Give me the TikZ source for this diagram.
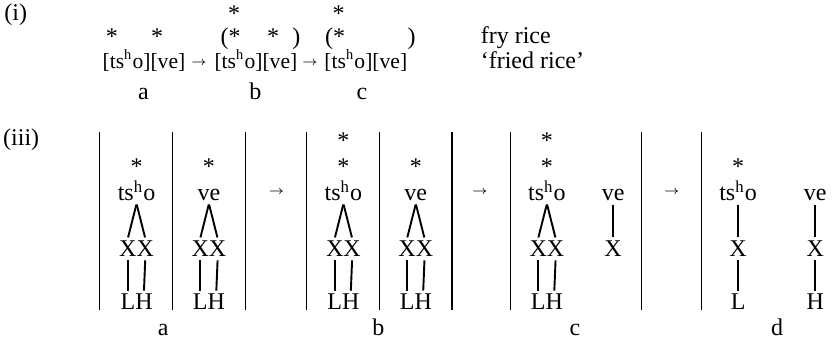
\documentclass[tikz,border=0pt]{standalone}
\usepackage{fontspec}
\setmainfont{Liberation Serif}
\usepackage{tikz}
\usetikzlibrary{positioning}
\newcommand{\tsho}{ts\textsuperscript{h}o}
\tikzset{
  seg/.style={inner sep=1pt, anchor=base},
  form/.style={inner sep=1pt, anchor=base west, font=\fontsize{9}{11}\selectfont},
  arr/.style={inner sep=0pt, font=\fontsize{5.5}{7}\selectfont},
  assoc/.style={line width=0.8pt, shorten >=0.3pt, shorten <=0.3pt},
  bar/.style={line width=0.45pt}
}

\begin{document}
\begin{tikzpicture}
\useasboundingbox (0,0) rectangle (12.2,5.02);

% (i) Metrical grid
\node[seg] (num-i) at (0.23,4.72) {(i)};
% Grid marks
\node[seg] (g-b-top) at (3.43,4.70) {*};
\node[seg] (g-c-top) at (4.96,4.70) {*};
\node[seg] (g-a-1) at (1.64,4.37) {*};
\node[seg] (g-a-2) at (2.30,4.37) {*};
\node[seg, anchor=base west] (g-b-1) at (3.19,4.37) {(*};
\node[seg] (g-b-2) at (4.00,4.37) {*};
\node[seg] (g-b-rp) at (4.34,4.37) {)};
\node[seg, anchor=base west] (g-c-1) at (4.72,4.37) {(*};
\node[seg] (g-c-rp) at (6.03,4.37) {)};
% Forms
\node[form] (f-a) at (1.46,4.01) {[\tsho][ve]};
\node[arr] (f-ab) at (2.915,4.09) {$\rightarrow$};
\node[form] (f-b) at (3.10,4.01) {[\tsho][ve]};
\node[arr] (f-bc) at (4.54,4.09) {$\rightarrow$};
\node[form] (f-c) at (4.71,4.01) {[\tsho][ve]};
% Labels
\node[seg] (l-a) at (2.10,3.56) {a};
\node[seg] (l-b) at (3.74,3.56) {b};
\node[seg] (l-c) at (5.30,3.56) {c};
% Gloss
\node[seg, anchor=base west] (gl-1) at (7.00,4.39) {fry rice};
\node[seg, anchor=base west] (gl-2) at (7.00,4.01) {`fried rice'};

% (iii) Tiers
\node[seg] (num-iii) at (0.31,2.89) {(iii)};

% Stage a
\begin{scope}[shift={(1.46,0)}]
\draw[bar] (0,0.48) -- (0,3.09);
\draw[bar] (1.07,0.48) -- (1.07,3.09);
\draw[bar] (2.13,0.48) -- (2.13,3.09);
% Values
\node[seg] (a-s1) at (0.54,2.46) {*};
\node[seg] (a-s2) at (1.60,2.46) {*};
\node[seg] (a-syl1) at (0.54,2.08) {\tsho};
\node[seg] (a-syl2) at (1.60,2.08) {ve};
\node[seg] (a-x1) at (0.413,1.26) {X};
\node[seg] (a-x2) at (0.667,1.26) {X};
\node[seg] (a-x3) at (1.473,1.26) {X};
\node[seg] (a-x4) at (1.727,1.26) {X};
\node[seg] (a-t1) at (0.413,0.48) {L};
\node[seg] (a-t2) at (0.648,0.48) {H};
\node[seg] (a-t3) at (1.473,0.48) {L};
\node[seg] (a-t4) at (1.708,0.48) {H};
\draw[assoc] (a-syl1.south) -- (a-x1.north);
\draw[assoc] (a-syl1.south) -- (a-x2.north);
\draw[assoc] (a-syl2.south) -- (a-x3.north);
\draw[assoc] (a-syl2.south) -- (a-x4.north);
\draw[assoc] (a-x1.south) -- (a-t1.north);
\draw[assoc] (a-x2.south) -- (a-t2.north);
\draw[assoc] (a-x3.south) -- (a-t3.north);
\draw[assoc] (a-x4.south) -- (a-t4.north);
% Labels
\node[seg] (a-lab) at (0.93,0.11) {a};
\end{scope}

\node[arr] (ab) at (4.05,2.20) {$\rightarrow$};

% Stage b
\begin{scope}[shift={(4.49,0)}]
\draw[bar] (0,0.48) -- (0,3.09);
\draw[bar] (1.07,0.48) -- (1.07,3.09);
\draw[bar] (2.13,0.48) -- (2.13,3.09);
% Values
\node[seg] (b-s0) at (0.54,2.85) {*};
\node[seg] (b-s1) at (0.54,2.46) {*};
\node[seg] (b-s2) at (1.60,2.46) {*};
\node[seg] (b-syl1) at (0.54,2.08) {\tsho};
\node[seg] (b-syl2) at (1.60,2.08) {ve};
\node[seg] (b-x1) at (0.413,1.26) {X};
\node[seg] (b-x2) at (0.667,1.26) {X};
\node[seg] (b-x3) at (1.473,1.26) {X};
\node[seg] (b-x4) at (1.727,1.26) {X};
\node[seg] (b-t1) at (0.413,0.48) {L};
\node[seg] (b-t2) at (0.648,0.48) {H};
\node[seg] (b-t3) at (1.473,0.48) {L};
\node[seg] (b-t4) at (1.708,0.48) {H};
\draw[assoc] (b-syl1.south) -- (b-x1.north);
\draw[assoc] (b-syl1.south) -- (b-x2.north);
\draw[assoc] (b-syl2.south) -- (b-x3.north);
\draw[assoc] (b-syl2.south) -- (b-x4.north);
\draw[assoc] (b-x1.south) -- (b-t1.north);
\draw[assoc] (b-x2.south) -- (b-t2.north);
\draw[assoc] (b-x3.south) -- (b-t3.north);
\draw[assoc] (b-x4.south) -- (b-t4.north);
% Labels
\node[seg] (b-lab) at (1.05,0.11) {b};
\end{scope}

\node[arr] (bc) at (7.03,2.20) {$\rightarrow$};

% Stage c
\begin{scope}[shift={(7.47,0)}]
\draw[bar] (0,0.48) -- (0,3.09);
\draw[bar] (1.93,0.48) -- (1.93,3.09);
% Values
\node[seg] (c-s0) at (0.54,2.85) {*};
\node[seg] (c-s1) at (0.54,2.46) {*};
\node[seg] (c-syl1) at (0.54,2.08) {\tsho};
\node[seg] (c-syl2) at (1.51,2.08) {ve};
\node[seg] (c-x1) at (0.413,1.26) {X};
\node[seg] (c-x2) at (0.667,1.26) {X};
\node[seg] (c-x3) at (1.51,1.26) {X};
\node[seg] (c-t1) at (0.413,0.48) {L};
\node[seg] (c-t2) at (0.648,0.48) {H};
\draw[assoc] (c-syl1.south) -- (c-x1.north);
\draw[assoc] (c-syl1.south) -- (c-x2.north);
\draw[assoc] (c-syl2.south) -- (c-x3.north);
\draw[assoc] (c-x1.south) -- (c-t1.north);
\draw[assoc] (c-x2.south) -- (c-t2.north);
% Labels
\node[seg] (c-lab) at (0.95,0.11) {c};
\end{scope}

\node[arr] (cd) at (9.84,2.20) {$\rightarrow$};

% Stage d
\begin{scope}[shift={(10.28,0)}]
\draw[bar] (0,0.48) -- (0,3.09);
% Values
\node[seg] (d-s1) at (0.53,2.46) {*};
\node[seg] (d-syl1) at (0.53,2.08) {\tsho};
\node[seg] (d-syl2) at (1.66,2.08) {ve};
\node[seg] (d-x1) at (0.53,1.26) {X};
\node[seg] (d-x2) at (1.66,1.26) {X};
\node[seg] (d-t1) at (0.53,0.48) {L};
\node[seg] (d-t2) at (1.66,0.48) {H};
\draw[assoc] (d-syl1.south) -- (d-x1.north);
\draw[assoc] (d-syl2.south) -- (d-x2.north);
\draw[assoc] (d-x1.south) -- (d-t1.north);
\draw[assoc] (d-x2.south) -- (d-t2.north);
% Labels
\node[seg] (d-lab) at (1.10,0.11) {d};
\end{scope}
\end{tikzpicture}
\end{document}
